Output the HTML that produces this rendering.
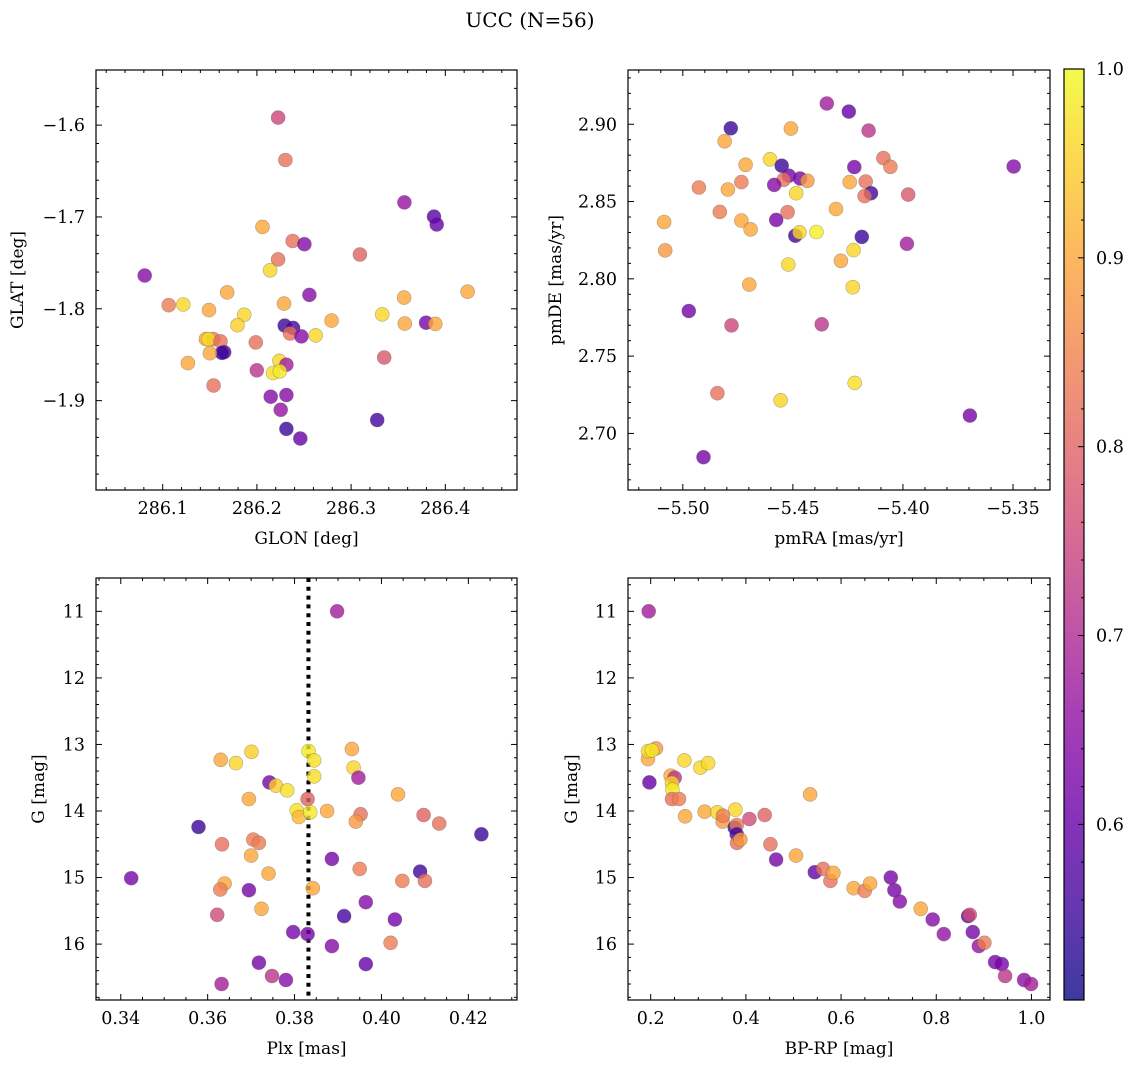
<!DOCTYPE html>
<html><head><meta charset="utf-8"><style>
body{margin:0;background:#fff;}
svg text{font-family:"DejaVu Serif","Liberation Serif",serif;fill:#000;}
</style></head><body>
<svg id="fig" width="1136" height="1068" viewBox="0 0 1136 1068" xmlns="http://www.w3.org/2000/svg">
<rect width="1136" height="1068" fill="#fff"/>
<text x="530" y="27" font-size="20" text-anchor="middle">UCC (N=56)</text>
</svg>
<script>
// ---- data ----
const glon=[286.2225,286.2302,286.3566,286.3880,286.3909,286.2059,286.2380,286.2504,286.3093,286.2225,286.2140,286.0809,286.1685,286.2557,286.4237,286.3563,286.1064,286.1219,286.1491,286.2288,286.1865,286.1794,286.3330,286.2793,286.3570,286.3796,286.3894,286.2295,286.2384,286.2352,286.2472,286.2624,286.1459,286.1537,286.1487,286.1614,286.1988,286.1653,286.1628,286.1501,286.1268,286.2239,286.2313,286.2172,286.2243,286.1999,286.3351,286.1540,286.2147,286.2313,286.2253,286.2313,286.2461,286.3277];
const glat=[-1.5918,-1.6380,-1.6842,-1.6996,-1.7082,-1.7108,-1.7262,-1.7297,-1.7409,-1.7462,-1.7581,-1.7638,-1.7821,-1.7849,-1.7814,-1.7878,-1.7961,-1.7953,-1.8014,-1.7943,-1.8065,-1.8179,-1.8061,-1.8129,-1.8161,-1.8151,-1.8165,-1.8183,-1.8208,-1.8269,-1.8301,-1.8290,-1.8330,-1.8330,-1.8330,-1.8355,-1.8366,-1.8473,-1.8480,-1.8484,-1.8591,-1.8566,-1.8609,-1.8699,-1.8681,-1.8670,-1.8530,-1.8835,-1.8957,-1.8939,-1.9100,-1.9308,-1.9412,-1.9211];
const probPos=[0.75,0.82,0.66,0.58,0.60,0.90,0.82,0.64,0.80,0.82,0.96,0.64,0.90,0.64,0.90,0.90,0.84,0.96,0.90,0.90,0.96,0.95,0.96,0.90,0.90,0.62,0.90,0.55,0.56,0.82,0.64,0.96,0.90,0.84,0.97,0.82,0.82,0.58,0.55,0.90,0.90,0.96,0.68,0.97,0.98,0.72,0.78,0.82,0.64,0.64,0.66,0.55,0.60,0.56];

const pmra=[-5.4346,-5.4246,-5.4156,-5.4782,-5.4509,-5.4810,-5.4604,-5.4551,-5.4715,-5.4518,-5.4467,-5.4434,-5.4542,-5.4585,-5.4734,-5.4795,-5.4927,-5.4485,-5.4221,-5.4089,-5.4057,-5.4242,-5.4169,-5.4145,-5.4174,-5.3976,-5.3497,-5.5085,-5.5080,-5.4832,-5.4734,-5.4692,-5.4576,-5.4524,-5.4489,-5.4470,-5.4393,-5.4304,-5.4187,-5.4224,-5.4282,-5.3982,-5.4521,-5.4698,-5.4228,-5.4973,-5.4779,-5.4369,-5.4843,-5.4556,-5.4219,-5.3696,-5.4906];
const pmde=[2.9134,2.9082,2.8959,2.8974,2.8972,2.8890,2.8773,2.8732,2.8738,2.8667,2.8649,2.8634,2.8641,2.8608,2.8626,2.8578,2.8591,2.8554,2.8723,2.8781,2.8725,2.8626,2.8630,2.8554,2.8535,2.8545,2.8727,2.8368,2.8184,2.8433,2.8377,2.8320,2.8381,2.8431,2.8279,2.8301,2.8303,2.8452,2.8271,2.8186,2.8117,2.8227,2.8093,2.7963,2.7946,2.7792,2.7699,2.7706,2.7260,2.7214,2.7327,2.7115,2.6846];
const probPm=[0.68,0.60,0.72,0.55,0.90,0.90,0.96,0.55,0.90,0.62,0.62,0.88,0.82,0.64,0.84,0.90,0.84,0.96,0.62,0.82,0.84,0.90,0.82,0.56,0.82,0.78,0.64,0.90,0.88,0.84,0.90,0.90,0.62,0.82,0.56,0.96,0.99,0.90,0.55,0.96,0.90,0.68,0.96,0.90,0.96,0.62,0.75,0.72,0.82,0.96,0.97,0.62,0.62];

const plx=[0.3898,0.3630,0.3665,0.3701,0.3832,0.3845,0.3845,0.3932,0.3936,0.3947,0.3742,0.3757,0.3783,0.3695,0.3830,0.3805,0.3810,0.3836,0.3875,0.4038,0.3952,0.3941,0.4097,0.4133,0.3579,0.4230,0.3633,0.3705,0.3718,0.3700,0.3886,0.3950,0.3740,0.4089,0.3424,0.3639,0.3629,0.3695,0.3842,0.4048,0.4100,0.3964,0.3724,0.3622,0.3914,0.4031,0.3797,0.3830,0.3886,0.4021,0.3718,0.3964,0.3748,0.3780,0.3632];
const gPlx=[11.00,13.23,13.28,13.11,13.10,13.24,13.48,13.07,13.35,13.50,13.57,13.62,13.69,13.82,13.82,13.99,14.09,14.02,14.00,13.75,14.05,14.16,14.06,14.19,14.24,14.35,14.50,14.43,14.48,14.67,14.72,14.87,14.94,14.91,15.01,15.09,15.18,15.19,15.16,15.05,15.05,15.37,15.47,15.56,15.58,15.63,15.82,15.85,16.03,15.98,16.28,16.30,16.48,16.54,16.60];
const probPlx=[0.68,0.90,0.96,0.95,0.98,0.97,0.97,0.90,0.96,0.68,0.62,0.95,0.97,0.90,0.80,0.97,0.92,0.98,0.90,0.90,0.82,0.88,0.80,0.82,0.55,0.55,0.82,0.84,0.84,0.90,0.62,0.84,0.90,0.56,0.62,0.90,0.84,0.62,0.90,0.84,0.82,0.64,0.90,0.76,0.56,0.62,0.62,0.62,0.64,0.84,0.62,0.60,0.72,0.64,0.68];
const plxRef=[0.3832];

const bprp=[0.1958,0.1944,0.1944,0.2112,0.2028,0.1972,0.2708,0.3044,0.3205,0.2420,0.2504,0.2448,0.2455,0.2448,0.2595,0.2722,0.3135,0.3401,0.3779,0.3513,0.3520,0.3765,0.3807,0.3807,0.3814,0.3884,0.4074,0.4396,0.4515,0.4634,0.5054,0.5349,0.5447,0.5622,0.5776,0.5839,0.6266,0.6497,0.6609,0.7044,0.7121,0.7233,0.7674,0.7926,0.8158,0.8669,0.8704,0.8767,0.8893,0.9012,0.9236,0.9377,0.9447,0.9846,0.9993];
const gCmd=[11.00,13.22,13.10,13.06,13.09,13.57,13.24,13.35,13.28,13.47,13.50,13.58,13.68,13.82,13.82,14.08,14.01,14.02,13.98,14.16,14.07,14.25,14.21,14.35,14.48,14.43,14.12,14.06,14.50,14.73,14.67,13.75,14.92,14.87,15.05,14.93,15.16,15.20,15.09,15.00,15.19,15.36,15.47,15.63,15.85,15.58,15.56,15.82,16.03,15.98,16.27,16.30,16.48,16.54,16.60];
const probCmd=[0.68,0.90,0.96,0.88,0.98,0.60,0.96,0.96,0.96,0.90,0.72,0.96,0.98,0.82,0.84,0.90,0.90,0.96,0.96,0.88,0.84,0.55,0.84,0.56,0.82,0.88,0.76,0.80,0.82,0.62,0.90,0.90,0.60,0.82,0.82,0.90,0.90,0.84,0.90,0.62,0.62,0.64,0.90,0.64,0.66,0.58,0.76,0.62,0.66,0.84,0.62,0.62,0.72,0.65,0.68];

const ticksGlon=[286.1,286.2,286.3,286.4];
const ticksGlat=[-1.6,-1.7,-1.8,-1.9];
const ticksPmra=[-5.50,-5.45,-5.40,-5.35];
const ticksPmde=[2.90,2.85,2.80,2.75,2.70];
const ticksPlx=[0.34,0.36,0.38,0.40,0.42];
const ticksG=[11,12,13,14,15,16];
const ticksBprp=[0.2,0.4,0.6,0.8,1.0];
const ticksCbar=[0.6,0.7,0.8,0.9,1.0];

const VMIN=0.507, VMAX=1.0;
// ---- helpers ----
const NS="http://www.w3.org/2000/svg";
const svg=document.getElementById('fig');
function mk(tag,attrs,parent){const e=document.createElementNS(NS,tag);for(const k in attrs)e.setAttribute(k,attrs[k]);(parent||svg).appendChild(e);return e;}
const plasma=[[13,8,135],[65,4,157],[106,0,168],[143,13,164],[177,42,144],[204,71,120],[225,100,98],[242,132,75],[252,166,54],[252,206,37],[240,249,33]];
function cmap(v){let t=(v-VMIN)/(VMAX-VMIN);t=Math.max(0,Math.min(1,t));const f=t*10;const i=Math.min(9,Math.floor(f));const u=f-i;const a=plasma[i],b=plasma[i+1];
 return `rgb(${Math.round(a[0]+(b[0]-a[0])*u)},${Math.round(a[1]+(b[1]-a[1])*u)},${Math.round(a[2]+(b[2]-a[2])*u)})`;}
function fmt(v,d){return (v<0?'\u2212':'')+Math.abs(v).toFixed(d);}

function panel(cfg){
 const {name,L,T,R,B,xd,yd}=cfg;
 const sx=v=>L+(v-xd[0])/(xd[1]-xd[0])*(R-L);
 const sy=cfg.yflip? (v=>T+(v-yd[0])/(yd[1]-yd[0])*(B-T)) : (v=>B-(v-yd[0])/(yd[1]-yd[0])*(B-T));
 const g=mk('g',{});
 
 
 const clip=mk('clipPath',{id:'c-'+name},g);mk('rect',{x:L,y:T,width:R-L,height:B-T},clip);
 const pts=mk('g',{'clip-path':'url(#c-'+name+')'},g);
 if(cfg.vline){const l=mk('line',{x1:sx(cfg.vline),x2:sx(cfg.vline),y1:T,y2:B,stroke:'#000','stroke-width':4,'stroke-dasharray':'4 4.8'},pts);
  
  }
 for(let i=0;i<cfg.xs.length;i++){
  const c=mk('circle',{cx:sx(cfg.xs[i]).toFixed(1),cy:sy(cfg.ys[i]).toFixed(1),r:7,fill:cmap(cfg.ps[i]),'fill-opacity':0.8,stroke:'#555','stroke-opacity':0.45,'stroke-width':0.6},pts);
  
  
 }
 mk('rect',{x:L,y:T,width:R-L,height:B-T,fill:'none',stroke:'#000','stroke-width':1.2},g);
 const tk=(x1,y1,x2,y2)=>mk('line',{x1,y1,x2,y2,stroke:'#000','stroke-width':1},g);
 const xmin=cfg.xminor, ymin=cfg.yminor;
 for(let v=Math.ceil(xd[0]/xmin-1e-6)*xmin; v<=xd[1]+1e-9; v+=xmin){const x=sx(v);const maj=cfg.xt.some(t=>Math.abs(t-v)<xmin/10);const len=maj?6:3;tk(x,B,x,B-len);tk(x,T,x,T+len);}
 const ylo=Math.min(yd[0],yd[1]), yhi=Math.max(yd[0],yd[1]);
 for(let v=Math.ceil(ylo/ymin-1e-6)*ymin; v<=yhi+1e-9; v+=ymin){const y=sy(v);const maj=cfg.yt.some(t=>Math.abs(t-v)<ymin/10);const len=maj?6:3;tk(L,y,L+len,y);tk(R,y,R-len,y);}
 cfg.xt.forEach(v=>{const t=mk('text',{x:sx(v),y:B+24,'font-size':17.5,'text-anchor':'middle'},g);t.textContent=fmt(v,cfg.xdec);
  
  });
 cfg.yt.forEach(v=>{const t=mk('text',{x:L-11,y:sy(v)+6,'font-size':17.5,'text-anchor':'end'},g);t.textContent=fmt(v,cfg.ydec);
  
  });
 const xl=mk('text',{x:(L+R)/2,y:B+54,'font-size':17,'text-anchor':'middle'},g);xl.textContent=cfg.xlabel;
 
 
 const yx=cfg.ylx, yy=(T+B)/2;
 const yl=mk('text',{x:yx,y:yy,'font-size':17,'text-anchor':'middle',transform:`rotate(-90 ${yx} ${yy})`},g);yl.textContent=cfg.ylabel;
 
 
}

panel({name:'glon-glat-panel',L:96,T:70,R:517,B:490,xd:[286.0292,286.4761],yd:[-1.9973,-1.540],xs:glon,ys:glat,ps:probPos,xt:ticksGlon,yt:ticksGlat,xminor:0.02,yminor:0.02,xdec:1,ydec:1,xlabel:'GLON [deg]',ylabel:'GLAT [deg]',ylx:23});
panel({name:'pm-panel',L:628,T:70,R:1050,B:490,xd:[-5.5249,-5.3332],yd:[2.6634,2.9351],xs:pmra,ys:pmde,ps:probPm,xt:ticksPmra,yt:ticksPmde,xminor:0.01,yminor:0.01,xdec:2,ydec:2,xlabel:'pmRA [mas/yr]',ylabel:'pmDE [mas/yr]',ylx:561});
panel({name:'plx-g-panel',L:96,T:578,R:517,B:1000,xd:[0.3343,0.4312],yd:[10.499,16.84],yflip:true,xs:plx,ys:gPlx,ps:probPlx,xt:ticksPlx,yt:ticksG,xminor:0.005,yminor:0.2,xdec:2,ydec:0,xlabel:'Plx [mas]',ylabel:'G [mag]',ylx:44,vline:plxRef[0]});
panel({name:'cmd-panel',L:628,T:578,R:1050,B:1000,xd:[0.1523,1.0390],yd:[10.499,16.84],yflip:true,xs:bprp,ys:gCmd,ps:probCmd,xt:ticksBprp,yt:ticksG,xminor:0.05,yminor:0.2,xdec:1,ydec:0,xlabel:'BP-RP [mag]',ylabel:'G [mag]',ylx:577});

(function(){
 const L=1064,R=1084,T=69,B=1000;
 const g=mk('g',{});
 
 
 const defs=mk('defs',{},g);
 const lg=mk('linearGradient',{id:'cbg',x1:0,y1:1,x2:0,y2:0},defs);
 for(let i=0;i<=20;i++){const v=VMIN+(VMAX-VMIN)*i/20;mk('stop',{offset:(i/20),'stop-color':cmap(v),'stop-opacity':0.8},lg);}
 mk('rect',{x:L,y:T,width:R-L,height:B-T,fill:'url(#cbg)',stroke:'#000','stroke-width':1.2},g);
 const sy=v=>B-(v-VMIN)/(VMAX-VMIN)*(B-T);
 for(let v=0.52;v<=1.0001;v+=0.02){const y=sy(v);const maj=ticksCbar.some(t=>Math.abs(t-v)<0.005);mk('line',{x1:R,y1:y,x2:R-(maj?6:3),y2:y,stroke:'#000','stroke-width':1},g);}
 ticksCbar.forEach(v=>{const t=mk('text',{x:R+12,y:sy(v)+6,'font-size':17.5},g);t.textContent=v.toFixed(1);
  
  });
})();
</script>
</body></html>
